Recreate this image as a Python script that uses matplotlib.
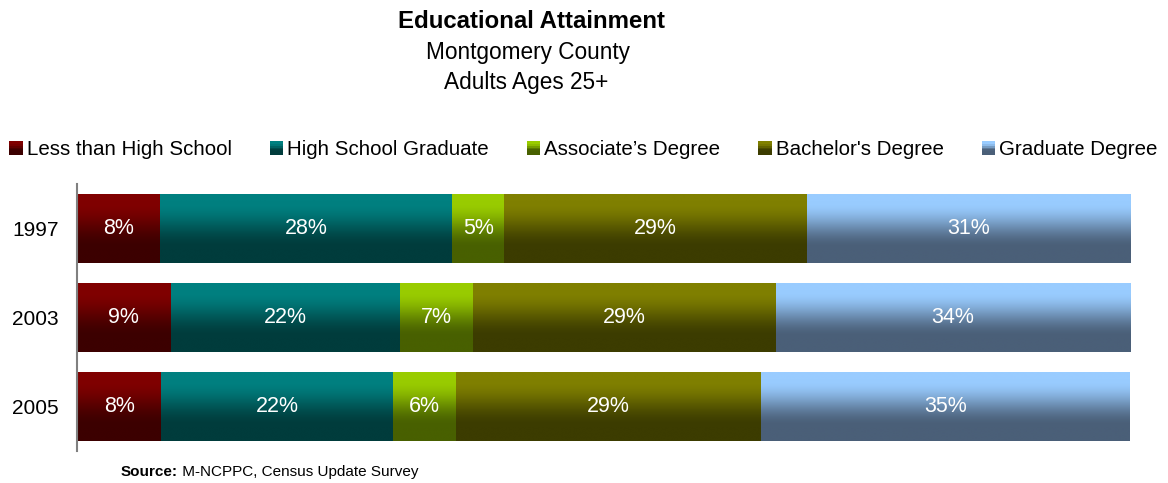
import numpy as np
import matplotlib
matplotlib.use("Agg")
import matplotlib.pyplot as plt
from matplotlib.patches import Rectangle
from matplotlib.legend_handler import HandlerBase

plt.rcParams["font.family"] = ["Liberation Sans", "DejaVu Sans"]

# ---- data -------------------------------------------------------------
years = ["1997", "2003", "2005"]
categories = ["Less than High School", "High School Graduate",
              "Associate\u2019s Degree", "Bachelor's Degree", "Graduate Degree"]
less_than_hs = [8, 9, 8]
hs_graduate = [28, 22, 22]
associate = [5, 7, 6]
bachelor = [29, 29, 29]
graduate = [31, 34, 35]
series = [less_than_hs, hs_graduate, associate, bachelor, graduate]

# top / bottom colours of the vertical gradient for each series
top_colors = ["#800000", "#008080", "#99cc00", "#808000", "#99ccff"]
bottom_colors = ["#3c0000", "#003c3c", "#486000", "#3c3c00", "#4a5f78"]


def hex_rgb(h):
    h = h.lstrip("#")
    return np.array([int(h[i:i + 2], 16) / 255 for i in (0, 2, 4)])


def gradient(top, bottom, n=200):
    t = np.linspace(0, 1, n)
    s = np.clip((t - 0.12) / (0.78 - 0.12), 0, 1)
    s = s * s * (3 - 2 * s)
    c0, c1 = hex_rgb(top), hex_rgb(bottom)
    return (c0[None, :] * (1 - s[:, None]) + c1[None, :] * s[:, None])[:, None, :]


W, H = 1168, 483
fig = plt.figure(figsize=(W / 100, H / 100), dpi=100)
ax = fig.add_axes([77 / W, 1 - 451 / H, (1130 - 77) / W, (451 - 184) / H])

y = np.arange(len(years))
data = np.array(series, dtype=float)
shares = data / data.sum(axis=0) * 100  # 100% stacked

left = np.zeros(len(years))
bar_h = 0.775
for k, (vals, raw) in enumerate(zip(shares, series)):
    bars = ax.barh(y, vals, left=left, height=bar_h, color="none",
                   edgecolor="none")
    img = gradient(top_colors[k], bottom_colors[k])
    for p in bars.patches:
        x0, y0, w, h = p.get_x(), p.get_y(), p.get_width(), p.get_height()
        ax.imshow(img, extent=(x0, x0 + w, y0 + h, y0), origin="upper",
                  aspect="auto", interpolation="bilinear", zorder=2)
    ax.bar_label(bars, labels=[f"{v}%" for v in raw], label_type="center",
                 color="white", fontsize=15.5, zorder=3)
    left += vals

ax.set_xlim(0, 100)
ax.set_ylim(len(years) - 0.5, -0.5)
ax.set_yticks(y)
ax.set_yticklabels(years, fontsize=15)
ax.tick_params(axis="y", length=0, pad=13)
ax.set_xticks([])
for side in ["top", "right", "bottom"]:
    ax.spines[side].set_visible(False)
ax.spines["left"].set_color("#808080")
ax.spines["left"].set_linewidth(1.5)


# legend with small gradient squares
class GradientSquare(HandlerBase):
    def __init__(self, top, bottom):
        super().__init__()
        self.top, self.bottom = top, bottom

    def create_artists(self, legend, orig_handle, xdescent, ydescent,
                       width, height, fontsize, trans):
        n = 8
        g = gradient(self.top, self.bottom, n)[:, 0, :]
        arts = []
        for i in range(n):
            arts.append(Rectangle((-xdescent, -ydescent + height * (1 - (i + 1) / n)),
                                  width, height / n + 0.2, facecolor=g[i],
                                  edgecolor="none", transform=trans))
        return arts


handles = [Rectangle((0, 0), 1, 1) for _ in categories]
handler_map = {h: GradientSquare(top_colors[i], bottom_colors[i])
               for i, h in enumerate(handles)}
fig.legend(handles, categories, handler_map=handler_map, ncol=5,
           loc="center left", bbox_to_anchor=(9 / W, 1 - 149.5 / H),
           frameon=False, fontsize=14.75, handlelength=0.66, handleheight=0.66,
           handletextpad=0.2, columnspacing=1.85, borderpad=0, borderaxespad=0)

# titles
fig.text(532 / W, 1 - 21 / H, "Educational Attainment", ha="center",
         va="center", fontsize=17.3, fontweight="bold")
fig.text(528 / W, 1 - 53 / H, "Montgomery County", ha="center",
         va="center", fontsize=16.3)
fig.text(526 / W, 1 - 82 / H, "Adults Ages 25+", ha="center",
         va="center", fontsize=16.3)

# source note
src = fig.text(121 / W, 1 - 472 / H, "Source:", ha="left", va="center",
               fontsize=11, fontweight="bold")
ax.annotate(" M-NCPPC, Census Update Survey", xy=(1, 0), xycoords=src,
            ha="left", va="bottom", fontsize=11, annotation_clip=False)

fig.savefig("out.png", dpi=100)
